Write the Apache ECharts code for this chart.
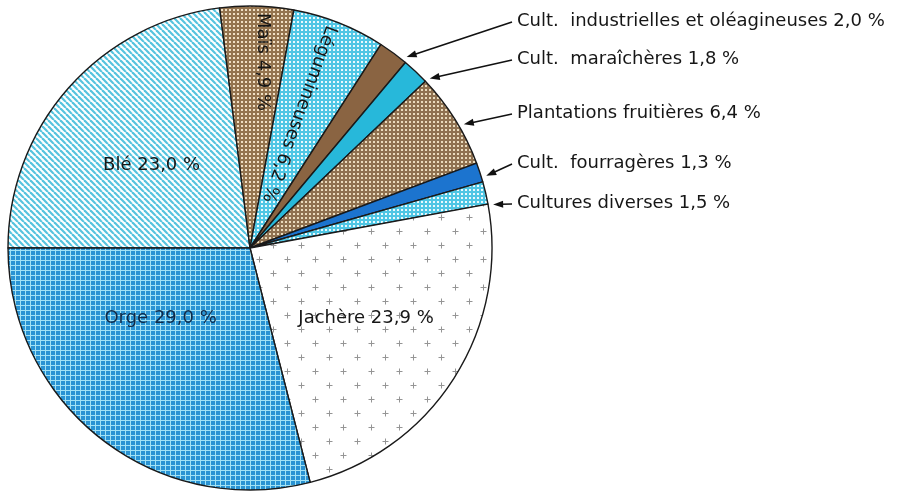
<!DOCTYPE html>
<html><head><meta charset="utf-8">
<script src="https://cdn.jsdelivr.net/npm/echarts@6/dist/echarts.min.js"></script>
<style>html,body{margin:0;padding:0;background:#fff}#c{width:897px;height:491px}</style>
</head><body><div id="c"></div>
<script>
// ---- data ----
const categories = ['Blé', 'Maïs', 'Légumineuses', 'Cult.  industrielles et oléagineuses', 'Cult.  maraîchères',
  'Plantations fruitières', 'Cult.  fourragères', 'Cultures diverses', 'Jachère', 'Orge'];
const shares = [23.0, 4.9, 6.2, 2.0, 1.8, 6.4, 1.3, 1.5, 23.9, 29.0];

// ---- layout / style ----
const CX = 250, CY = 248, R = 242;
const LABEL_X = 517;
const outsideY = {3: 21, 4: 59, 5: 113, 6: 163, 7: 203};
const arrowAngleShift = {3: -3, 4: -3.5, 5: -2, 6: -1.2, 7: -3};
const insidePlace = {0: [1.5, 0.53], 1: [-2.3, 0.77], 2: [1.5, 0.59], 8: [1.5, 0.56], 9: [-14, 0.47]};
const insideRotate = {1: -90, 2: -110};

function tile(w, h, draw) {
  const c = document.createElement('canvas'); c.width = w; c.height = h;
  const g = c.getContext('2d'); draw(g, w, h);
  return {image: c, repeat: 'repeat'};
}
const hatch = tile(6, 6, (g, w) => {
  g.fillStyle = '#ffffff'; g.fillRect(0, 0, w, w);
  g.strokeStyle = '#55c3de'; g.lineWidth = 2.2;
  for (const k of [-w, 0, w]) { g.beginPath(); g.moveTo(k, 0); g.lineTo(k + w, w); g.stroke(); }
});
function dots(base, dot) {
  return tile(4, 4, (g) => { g.fillStyle = base; g.fillRect(0, 0, 4, 4); g.fillStyle = dot; g.fillRect(1, 1, 2, 2); });
}
const maisDots = dots('#94744f', '#f0dfc4');
const fruitDots = dots('#8f7150', '#eadbbd');
const cyanDots = dots('#4fc6e4', '#eaf9fd');
const grid = tile(5, 5, (g) => {
  g.fillStyle = '#2993d3'; g.fillRect(0, 0, 5, 5);
  g.fillStyle = '#a2e2f5'; g.fillRect(0, 0, 5, 1); g.fillRect(0, 0, 1, 5);
});
const plus = tile(28, 28, (g) => {
  g.fillStyle = '#ffffff'; g.fillRect(0, 0, 28, 28);
  g.strokeStyle = '#959595'; g.lineWidth = 1;
  for (const [x, y] of [[7.5, 7.5], [21.5, 21.5]]) {
    g.beginPath(); g.moveTo(x - 3, y); g.lineTo(x + 3, y); g.moveTo(x, y - 3); g.lineTo(x, y + 3); g.stroke();
  }
});
const fills = [hatch, maisDots, cyanDots, '#8a6442', '#27b8da', fruitDots, '#1c74cf', cyanDots, plus, grid];

// mid angles (math degrees) computed from data
const mids = []; { let cum = 0; for (const v of shares) { mids.push(180 - (cum + v / 2) * 3.6); cum += v; } }

function fmt(v) { return v.toFixed(1).replace('.', ',') + ' %'; }

const data = categories.map((name, i) => {
  const outside = outsideY[i] != null;
  return {
    name, value: shares[i],
    itemStyle: {color: fills[i]},
    label: {
      position: outside ? 'outside' : 'inside',
      rotate: insideRotate[i] != null ? insideRotate[i] : 0,
      color: i === 9 ? '#0f2a48' : '#161616'
    }
  };
});

// arrows for outside labels, derived from slice angles
const graphics = [];
for (const k in outsideY) {
  const i = +k;
  const a = (mids[i] + arrowAngleShift[i]) * Math.PI / 180;
  const tx = CX + Math.cos(a) * (R + 5), ty = CY - Math.sin(a) * (R + 5);
  const sx = LABEL_X - 5, sy = outsideY[i] + 1;
  const dx = tx - sx, dy = ty - sy, L = Math.hypot(dx, dy);
  const ux = dx / L, uy = dy / L, hl = 10, hw = 3.6;
  const bx = tx - ux * hl, by = ty - uy * hl;
  graphics.push({type: 'line', silent: true, z: 10,
    shape: {x1: sx, y1: sy, x2: bx + ux * 2, y2: by + uy * 2}, style: {stroke: '#111', lineWidth: 1.6}});
  graphics.push({type: 'polygon', silent: true, z: 10,
    shape: {points: [[tx, ty], [bx - uy * hw, by + ux * hw], [bx + uy * hw, by - ux * hw]]}, style: {fill: '#111'}});
}

const chart = echarts.init(document.getElementById('c'), null, {renderer: 'canvas'});
chart.setOption({
  animation: false,
  backgroundColor: '#ffffff',
  graphic: graphics,
  series: [{
    type: 'pie',
    center: [CX, CY], radius: R,
    startAngle: 180, clockwise: true,
    avoidLabelOverlap: false,
    itemStyle: {borderColor: '#1a1a1a', borderWidth: 1.4},
    label: {
      fontFamily: '"DejaVu Sans", Verdana, sans-serif', fontSize: 18,
      formatter: (p) => p.name + ' ' + fmt(p.value)
    },
    labelLine: {show: false},
    emphasis: {disabled: true},
    labelLayout: function (p) {
      const i = p.dataIndex;
      if (outsideY[i] != null) return {x: LABEL_X, y: outsideY[i], align: 'left', verticalAlign: 'middle'};
      const o = insidePlace[i];
      const a = (mids[i] + o[0]) * Math.PI / 180;
      return {x: CX + Math.cos(a) * R * o[1], y: CY - Math.sin(a) * R * o[1], align: 'center', verticalAlign: 'middle'};
    },
    data
  }]
});
</script>
</body></html>
